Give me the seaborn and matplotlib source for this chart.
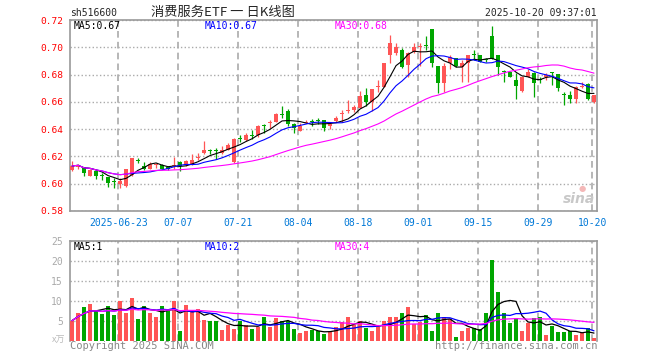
import matplotlib
matplotlib.use("Agg")
import matplotlib.pyplot as plt
import seaborn as sns
import numpy as np
import pandas as pd

# ==========================
# Data
# ==========================
holidays = ["2025-10-01", "2025-10-02", "2025-10-03", "2025-10-06", "2025-10-07", "2025-10-08"]
dates = pd.bdate_range("2025-06-11", "2025-10-20")
dates = dates[~dates.isin(pd.to_datetime(holidays))]

opens = [0.610, 0.612, 0.612, 0.606, 0.609, 0.6058, 0.6046, 0.6013, 0.600, 0.598,
         0.6065, 0.6172, 0.613, 0.611, 0.6135, 0.6138, 0.6121, 0.6128, 0.6162, 0.6138,
         0.6138, 0.6192, 0.6225, 0.6243, 0.6243, 0.6225, 0.625, 0.6162, 0.6333, 0.632,
         0.6352, 0.6357, 0.6424, 0.6443, 0.6455, 0.6505, 0.6535, 0.6438, 0.6389, 0.6447,
         0.6455, 0.6462, 0.6467, 0.642, 0.6462, 0.6508, 0.6536, 0.654, 0.6553, 0.665,
         0.660, 0.6709, 0.6711, 0.6943, 0.6956, 0.698, 0.687, 0.6963, 0.700, 0.7012,
         0.7132, 0.6863, 0.6736, 0.6882, 0.6919, 0.6858, 0.6887, 0.6944, 0.6943, 0.6908,
         0.7083, 0.6943, 0.6822, 0.6821, 0.676, 0.668, 0.6785, 0.681, 0.6761, 0.678,
         0.681, 0.6804, 0.665, 0.665, 0.6619, 0.671, 0.673, 0.6601]
highs = [0.617, 0.6145, 0.6125, 0.611, 0.610, 0.6075, 0.605, 0.604, 0.604, 0.611,
         0.6192, 0.619, 0.616, 0.616, 0.6155, 0.6145, 0.6128, 0.6194, 0.6168, 0.6175,
         0.6218, 0.6225, 0.6315, 0.6255, 0.6262, 0.628, 0.630, 0.6335, 0.6355, 0.637,
         0.6394, 0.643, 0.6438, 0.647, 0.6516, 0.657, 0.6545, 0.6442, 0.6447, 0.6467,
         0.6472, 0.6479, 0.647, 0.6455, 0.6496, 0.654, 0.6614, 0.6577, 0.6682, 0.6699,
         0.6692, 0.676, 0.6887, 0.709, 0.7029, 0.6992, 0.6968, 0.7029, 0.703, 0.7083,
         0.7135, 0.6866, 0.6882, 0.6943, 0.692, 0.6907, 0.6945, 0.698, 0.6946, 0.6925,
         0.7156, 0.6945, 0.6833, 0.6825, 0.6809, 0.679, 0.6838, 0.6822, 0.6785, 0.6814,
         0.6822, 0.6805, 0.6675, 0.6682, 0.6716, 0.6748, 0.6736, 0.665]
lows = [0.609, 0.6105, 0.6056, 0.6055, 0.6036, 0.6024, 0.5978, 0.5969, 0.597, 0.5975,
        0.606, 0.6152, 0.610, 0.6105, 0.6112, 0.6105, 0.610, 0.611, 0.609, 0.6132,
        0.6135, 0.6177, 0.622, 0.6218, 0.618, 0.622, 0.6245, 0.6155, 0.6305, 0.6315,
        0.6325, 0.6345, 0.637, 0.6406, 0.645, 0.648, 0.6425, 0.637, 0.6385, 0.6445,
        0.6423, 0.6438, 0.6384, 0.6399, 0.6455, 0.6455, 0.6516, 0.6528, 0.6553, 0.657,
        0.6536, 0.6675, 0.6711, 0.6882, 0.6943, 0.6846, 0.6785, 0.6956, 0.686, 0.698,
        0.6858, 0.6667, 0.6675, 0.6838, 0.6858, 0.6748, 0.6748, 0.6907, 0.6895, 0.689,
        0.6912, 0.6797, 0.6748, 0.678, 0.6619, 0.6675, 0.678, 0.6638, 0.6741, 0.676,
        0.6723, 0.6682, 0.6577, 0.659, 0.659, 0.6699, 0.6614, 0.659]
closes = [0.613, 0.614, 0.608, 0.610, 0.6056, 0.6054, 0.6007, 0.6010, 0.602, 0.6105,
          0.619, 0.6168, 0.611, 0.6145, 0.6148, 0.611, 0.611, 0.6138, 0.6128, 0.617,
          0.6177, 0.6194, 0.625, 0.6241, 0.6240, 0.625, 0.6283, 0.633, 0.6330, 0.6355,
          0.635, 0.6423, 0.6420, 0.6447, 0.6509, 0.6502, 0.6438, 0.6406, 0.6423, 0.6455,
          0.6452, 0.6459, 0.6406, 0.6435, 0.6484, 0.6511, 0.654, 0.656, 0.6643, 0.660,
          0.6692, 0.6711, 0.6887, 0.7034, 0.7004, 0.6858, 0.6956, 0.7004, 0.701, 0.7008,
          0.6887, 0.6736, 0.6863, 0.6926, 0.6863, 0.6887, 0.6943, 0.6942, 0.6895, 0.6905,
          0.6912, 0.6858, 0.6820, 0.678, 0.6716, 0.678, 0.6821, 0.6736, 0.6759, 0.680,
          0.6809, 0.670, 0.6648, 0.6619, 0.6711, 0.6712, 0.6619, 0.665]
volumes = [5.1, 7.1, 8.5, 9.3, 7.7, 6.7, 8.8, 6.6, 10.0, 7.1,
           10.7, 5.5, 8.8, 7.1, 6.1, 8.8, 7.5, 10.0, 2.6, 9.0,
           7.5, 7.9, 5.2, 4.9, 4.9, 2.8, 3.9, 2.9, 5.1, 3.9,
           2.9, 3.6, 6.1, 3.6, 5.7, 5.1, 5.1, 3.0, 2.0, 2.4,
           2.8, 2.5, 1.8, 2.2, 3.6, 4.8, 6.1, 4.1, 5.1, 3.2,
           2.6, 3.6, 5.1, 5.9, 6.1, 6.9, 8.4, 4.3, 4.7, 6.6,
           2.6, 7.0, 5.9, 5.5, 1.1, 2.6, 3.2, 3.3, 3.0, 6.9,
           20.3, 12.2, 6.9, 4.4, 5.7, 2.4, 4.4, 5.7, 5.9, 1.6,
           3.7, 2.2, 2.2, 2.5, 1.4, 2.0, 3.3, 0.7]

tick_dates = ["2025-06-23", "2025-07-07", "2025-07-21", "2025-08-04", "2025-08-18",
              "2025-09-01", "2025-09-15", "2025-09-29", "2025-10-20"]
tick_labels = ["2025-06-23", "07-07", "07-21", "08-04", "08-18", "09-01", "09-15", "09-29", "10-20"]
price_ticks = [0.58, 0.60, 0.62, 0.64, 0.66, 0.68, 0.70, 0.72]
vol_ticks = [5, 10, 15, 20, 25]

RED, GREEN = "#FF5555", "#00A600"
GRID = "#AAAAAA"
MA_COLORS = {5: "black", 10: "#0000FF", 30: "#FF00FF"}

df = pd.DataFrame({"date": dates, "open": opens, "high": highs, "low": lows,
                   "close": closes, "vol": volumes})
df["idx"] = np.arange(len(df))
df["dir"] = np.where(df["close"] >= df["open"], "up", "down")
for n in MA_COLORS:
    df[f"ma{n}"] = df["close"].rolling(n, min_periods=1).mean()
    df[f"vma{n}"] = df["vol"].rolling(n, min_periods=1).mean()

tick_pos = [df.index[df["date"] == pd.Timestamp(d)][0] - 0.3 for d in tick_dates]

# ==========================
# Figure
# ==========================
sns.set_style("white")
plt.rcParams["font.family"] = ["DejaVu Sans Mono", "Noto Sans CJK SC"]
W, H = 660, 360
fig = plt.figure(figsize=(W / 100, H / 100), dpi=100)


def box(l, t, r, b):
    return [l / W, 1 - b / H, (r - l) / W, (b - t) / H]


def ftext(x, y, s, **kw):
    fig.text(x / W, 1 - y / H, s, va="center", **kw)


ax = fig.add_axes(box(70, 20, 597, 211))
axv = fig.add_axes(box(70, 241, 597, 341))

# candles
colors = np.where(df["dir"] == "up", RED, GREEN)
ax.vlines(df["idx"], df["low"], df["high"], colors=colors, lw=0.9, zorder=2)
body = (df["close"] - df["open"]).abs().clip(lower=0.0007)
ax.bar(df["idx"], body, bottom=np.minimum(df["open"], df["close"]), width=0.8,
       color=colors, linewidth=0, zorder=3)
for n, c in MA_COLORS.items():
    sns.lineplot(x=df["idx"], y=df[f"ma{n}"], color=c, lw=0.8, ax=ax, zorder=4)

# volume
sns.barplot(data=df, x="idx", y="vol", hue="dir", palette={"up": RED, "down": GREEN},
            native_scale=True, dodge=False, legend=False, width=0.8, saturation=1,
            linewidth=0, ax=axv, zorder=3)
for n, c in MA_COLORS.items():
    sns.lineplot(x=df["idx"], y=df[f"vma{n}"], color=c, lw=0.9, ax=axv, zorder=4)

# axes styling
for a in (ax, axv):
    a.set_xlim(-0.35, 87.5)
    a.set_xlabel("")
    a.set_ylabel("")
    a.set_xticks(tick_pos)
    a.tick_params(length=0)
    a.xaxis.grid(True, ls=(0, (4, 2.5)), color=GRID, lw=1.2)
    a.yaxis.grid(True, ls=":", color=GRID, lw=1)
    a.set_axisbelow(True)
    for s in a.spines.values():
        s.set_color("#999999")
        s.set_linewidth(1.2)

ax.set_ylim(0.58, 0.72)
ax.set_yticks(price_ticks)
ax.set_yticklabels([f"{v:.2f}" for v in price_ticks], color="#FF0000", fontsize=6.8)
ax.set_xticklabels(tick_labels, color="#0078D7", fontsize=7)
ax.tick_params(axis="y", pad=5)
ax.tick_params(axis="x", pad=5)

axv.set_ylim(0, 25)
axv.set_yticks(vol_ticks)
axv.set_yticklabels([str(v) for v in vol_ticks], color="#AAAAAA", fontsize=7)
axv.set_xticklabels([])
axv.tick_params(axis="y", pad=5)
axv.spines["bottom"].set_visible(False)

# texts
ftext(70, 13, "sh516600", fontsize=7)
ftext(223, 12, "消费服务ETF 一 日K线图", fontsize=9.5, ha="center",
      family=["Noto Sans CJK SC", "DejaVu Sans"])
ftext(597, 13, "2025-10-20 09:37:01", fontsize=7, ha="right")
ftext(74, 26, "MA5:0.67", fontsize=7, color="black")
ftext(205, 26, "MA10:0.67", fontsize=7, color="#0000FF")
ftext(335, 26, "MA30:0.68", fontsize=7, color="#FF00FF")
ftext(74, 247, "MA5:1", fontsize=7, color="black")
ftext(205, 247, "MA10:2", fontsize=7, color="#0000FF")
ftext(335, 247, "MA30:4", fontsize=7, color="#FF00FF")
ftext(65, 340, "x万", fontsize=6.5, ha="right", color="#BBBBBB",
      family=["Noto Sans CJK SC", "DejaVu Sans"])
ftext(70, 346, "Copyright 2025 SINA.COM", fontsize=7.5, color="#888888")
ftext(597, 346, "http://finance.sina.com.cn", fontsize=7.5, ha="right", color="#888888")
ftext(595, 199, "sina", fontsize=10, ha="right", color="#C8C8C8", style="italic",
      fontweight="bold", family=["DejaVu Sans"])
ftext(582, 189, "●", fontsize=6, ha="center", color="#F4B8B8", family=["DejaVu Sans"])

fig.savefig("out.png", dpi=100)
